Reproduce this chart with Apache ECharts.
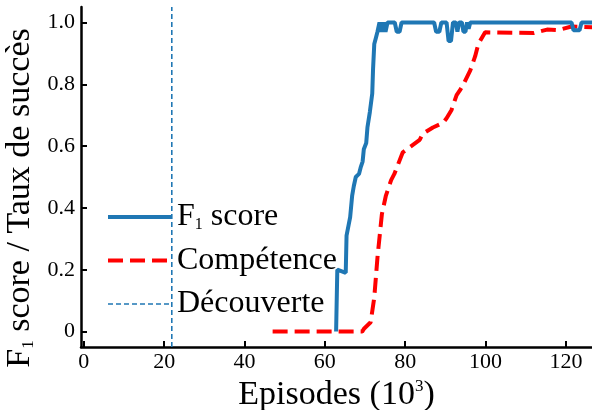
<!DOCTYPE html>
<html>
<head>
<meta charset="utf-8">
<script src="https://cdn.jsdelivr.net/npm/echarts@6/dist/echarts.min.js"></script>
<style>html,body{margin:0;padding:0;background:#fff}#c{width:592px;height:410px}</style>
</head>
<body>
<div id="c"></div>
<script>
// F1 score (blue solid): [episodes (10^3), value]
const f1Score = [[62.8,0],[63.1,0.2],[65.2,0.19],[65.4,0.31],[65.8,0.31],[66.3,0.37],[66.8,0.44],[67.2,0.47],[67.7,0.5],[68.5,0.51],[68.9,0.53],[69.4,0.55],[69.7,0.59],[70.3,0.61],[70.6,0.66],[71.2,0.71],[71.8,0.77],[72.0,0.85],[72.3,0.93],[72.7,0.95],[73.1,0.97],[73.6,1.0],[74.1,0.97],[74.6,1.0],[75.1,0.97],[75.6,1.0],[77.4,1.0],[77.9,0.97],[78.6,0.97],[79.1,1.0],[87.2,1.0],[87.7,0.97],[88.5,0.97],[89.0,1.0],[90.3,1.0],[90.8,0.94],[91.4,0.94],[91.9,1.0],[92.6,1.0],[93.0,0.97],[93.4,1.0],[94.1,1.0],[94.5,0.97],[95.0,0.97],[95.4,1.0],[95.8,0.98],[96.2,1.0],[121.4,1.0],[121.9,0.975],[123.4,0.975],[123.9,1.0],[128,1.0]];
// Compétence (red dashed)
const competence = [[47,0],[69.3,0],[69.8,0.01],[71.4,0.03],[72.3,0.11],[73.1,0.24],[74.2,0.38],[75.2,0.44],[76.5,0.49],[77.3,0.51],[79.4,0.58],[81.5,0.6],[83.6,0.62],[84.4,0.64],[86.9,0.66],[89.4,0.675],[90.3,0.69],[91.5,0.716],[92.8,0.765],[93.6,0.78],[94.5,0.8],[96.2,0.845],[97.4,0.89],[98.2,0.93],[99.9,0.968],[112,0.966],[115.3,0.977],[118,0.975],[121.4,0.987],[128,0.984]];
// Découverte (vertical dashed line)
const discoveryX = 21.9;
const discovery = [[discoveryX,-0.05],[discoveryX,1.05]];
const xTicks = [0,20,40,60,80,100,120];
const yTicks = [0,0.2,0.4,0.6,0.8,1.0];
const seriesNames = ['F1 score','Compétence','Découverte'];

const FONT = '"Liberation Serif", "DejaVu Serif", serif';
const SUB = {fontFamily: FONT, fontSize: 16, verticalAlign: 'bottom', padding: [13,0,0,0], color:'#000'};
const chart = echarts.init(document.getElementById('c'));
chart.setOption({
  animation: false,
  backgroundColor: '#fff',
  grid: {left: 81, right: 0, top: 7, bottom: 63, containLabel: false, outerBoundsMode: 'none'},
  xAxis: {
    type: 'value', min: -0.7, max: 126.5,
    name: 'Episodes (10{sup|3})', nameLocation: 'middle', nameGap: 23,
    nameTextStyle: {fontFamily: FONT, fontSize: 34, color: '#000', verticalAlign: 'top',
      rich: {sup: {fontFamily: FONT, fontSize: 17, verticalAlign: 'top', padding: [0,0,17,0], color:'#000'}}},
    splitLine: {show: false},
    axisLine: {show: true, onZero: false, lineStyle: {color: '#000', width: 2.5}},
    axisTick: {show: true, inside: true, length: 6, lineStyle: {color: '#000', width: 2}, customValues: xTicks},
    axisLabel: {fontFamily: FONT, fontSize: 22, color: '#000', margin: 4, customValues: xTicks, formatter: v => String(v)}
  },
  yAxis: {
    type: 'value', min: -0.05, max: 1.05,
    name: 'F{sub|1} score / Taux de succès', nameLocation: 'middle', nameGap: 32, nameRotate: 90,
    nameTextStyle: {fontFamily: FONT, fontSize: 34, color: '#000', padding: [0, 42, 0, 0],
      rich: {sub: {fontFamily: FONT, fontSize: 17, verticalAlign: 'bottom', padding: [14,0,0,0], color:'#000'}}},
    splitLine: {show: false},
    axisLine: {show: true, onZero: false, lineStyle: {color: '#000', width: 2.5}},
    axisTick: {show: true, inside: true, length: 6, lineStyle: {color: '#000', width: 2}, customValues: yTicks},
    axisLabel: {fontFamily: FONT, fontSize: 22, color: '#000', margin: 6, customValues: yTicks,
      formatter: v => (Math.abs(v) < 1e-9 ? '0' : v.toFixed(1))}
  },
  legend: {
    orient: 'vertical', left: 101, top: 196,
    itemWidth: 64, itemHeight: 14, itemGap: 11.5,
    itemStyle: {opacity: 0},
    data: [
      {name: seriesNames[0], lineStyle: {width: 4}},
      {name: seriesNames[1], lineStyle: {width: 4}},
      {name: seriesNames[2], lineStyle: {width: 1.6}}
    ],
    formatter: n => n === 'F1 score' ? 'F{sub|1} score' : n,
    textStyle: {fontFamily: FONT, fontSize: 32, color: '#000', lineHeight: 32, rich: {sub: SUB}}
  },
  series: [
    {name: seriesNames[1], type: 'line', data: competence, symbol: 'none', z: 2,
     lineStyle: {color: '#ff0000', width: 4, type: [15, 7]}, itemStyle: {color: '#ff0000'}},
    {name: seriesNames[0], type: 'line', data: f1Score, symbol: 'none', z: 3,
     lineStyle: {color: '#1f77b4', width: 4}, itemStyle: {color: '#1f77b4'}},
    {name: seriesNames[2], type: 'line', data: discovery, symbol: 'none', z: 1,
     lineStyle: {color: '#1f77b4', width: 1.6, type: [5, 3]}, itemStyle: {color: '#1f77b4'}}
  ]
});
</script>
</body>
</html>
